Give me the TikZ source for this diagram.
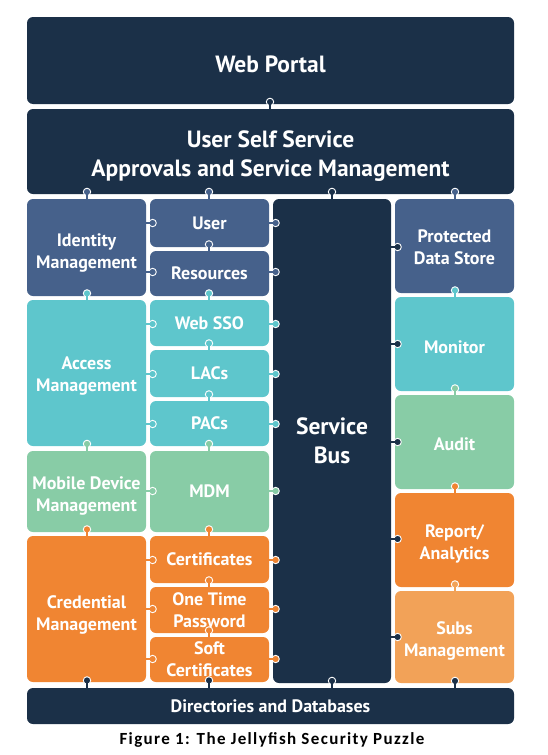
\documentclass[tikz,border=0pt]{standalone}
\usepackage{fontspec}
\setmainfont{PT Sans}
\newfontfamily\capfont{Carlito}[LetterSpace=8]
\definecolor{navy}{HTML}{1B3048}
\definecolor{idblue}{HTML}{46618B}
\definecolor{teal}{HTML}{5EC6CC}
\definecolor{mint}{HTML}{88CCA6}
\definecolor{tangerine}{HTML}{F08532}
\definecolor{apricot}{HTML}{F2A258}
\newcommand\fs[2]{\fontsize{#1}{#2}\selectfont}
\tikzset{
  piece/.style={fill=#1, rounded corners=6pt, inner sep=0pt, text=white,
    align=center, font=\bfseries\fs{18}{22}},
  bigpiece/.style={piece=#1, font=\bfseries\fs{23.5}{29}},
  every label/.style={text=white, align=center, inner sep=0pt, font=\bfseries\fs{18}{22}},
  pics/upknob/.style={code={
      \fill[#1] (-1.3,-4.5) rectangle (1.3,3);
      \filldraw[fill=#1, draw=white, line width=0.9pt] (0,-4.6) circle (3.7pt);
      \fill[#1] (-1.3,-4.5) rectangle (1.3,3);
    }},
  pics/rightknob/.style={code={
      \fill[#1] (-3,-1.3) rectangle (4.5,1.3);
      \filldraw[fill=#1, draw=white, line width=0.9pt] (4.6,0) circle (3.7pt);
      \fill[#1] (-3,-1.3) rectangle (4.5,1.3);
    }}
}
\begin{document}
\begin{tikzpicture}[x=1pt, y=-1pt]
  \useasboundingbox (0,0) rectangle (547,755);

  % top bars
  \node[bigpiece=navy, minimum width=487pt, minimum height=87pt,
    label={[yshift=-4pt, font=\bfseries\fs{23.5}{29}]center:Web Portal}] (portal) at (270.5,60.5) {};
  \node[bigpiece=navy, minimum width=487pt, minimum height=85pt,
    label={[yshift=-4.5pt, font=\bfseries\fs{23.5}{29}]center:{User Self Service\\Approvals and Service Management}}] (selfservice) at (270.5,151.5) {};

  % column 1
  \node[piece=idblue, minimum width=119pt, minimum height=97pt,
    label={[yshift=-6pt]center:{Identity\\Management}}] (identity) at (86.5,247.5) {};
  \node[piece=teal, minimum width=119pt, minimum height=146pt,
    label={[yshift=-3pt]center:{Access\\Management}}] (access) at (86.5,373) {};
  \node[piece=mint, minimum width=119pt, minimum height=81pt,
    label={[yshift=-5pt]center:{Mobile Device\\Management}}] (mobile) at (86.5,491.5) {};
  \node[piece=tangerine, minimum width=119pt, minimum height=146pt,
    label={[yshift=-6pt]center:{Credential\\Management}}] (credential) at (86.5,609) {};

  % column 2
  \node[piece=idblue, minimum width=119pt, minimum height=48pt] (user) at (209.5,223) {User};
  \node[piece=idblue, minimum width=119pt, minimum height=45pt] (resources) at (209.5,273.5) {Resources};
  \node[piece=teal, minimum width=119pt, minimum height=46pt] (websso) at (209.5,323) {Web SSO};
  \node[piece=teal, minimum width=119pt, minimum height=47pt] (lacs) at (209.5,373.5) {LACs};
  \node[piece=teal, minimum width=119pt, minimum height=45pt] (pacs) at (209.5,423.5) {PACs};
  \node[piece=mint, minimum width=119pt, minimum height=81pt] (mdm) at (209.5,491.5) {MDM};
  \node[piece=tangerine, minimum width=119pt, minimum height=47pt] (certs) at (209.5,559.5) {Certificates};
  \node[piece=tangerine, minimum width=119pt, minimum height=46pt] (otp) at (209.5,610) {One Time\\Password};
  \node[piece=tangerine, minimum width=119pt, minimum height=45pt] (softcerts) at (209.5,659.5) {Soft\\Certificates};

  % service bus
  \node[bigpiece=navy, minimum width=118pt, minimum height=484pt] (bus) at (332,441) {Service\\Bus};

  % column 4
  \node[piece=idblue, minimum width=119pt, minimum height=94pt,
    label={[yshift=-1.5pt]center:{Protected\\Data Store}}] (datastore) at (454.5,246) {};
  \node[piece=teal, minimum width=119pt, minimum height=94pt,
    label={[yshift=-3pt]center:Monitor}] (monitor) at (454.5,344) {};
  \node[piece=mint, minimum width=119pt, minimum height=94pt,
    label={[yshift=-2.5pt]center:Audit}] (audit) at (454.5,442) {};
  \node[piece=tangerine, minimum width=119pt, minimum height=94pt,
    label={[yshift=-4pt]center:{Report/\\Analytics}}] (report) at (454.5,540) {};
  \node[piece=apricot, minimum width=119pt, minimum height=92pt,
    label={[yshift=-4pt]center:{Subs\\Management}}] (subs) at (454.5,637) {};

  % bottom bar
  \node[piece=navy, minimum width=487pt, minimum height=36pt] (directories) at (270.5,706) {Directories and Databases};

  % puzzle knobs
  \pic at (270,106.5) {upknob=navy};
  \foreach \x/\c in {87/idblue, 209/idblue, 332/navy, 455/idblue}
    \pic at (\x,196.5) {upknob=\c};
  \foreach \x/\y/\c in {87/298/teal, 87/448.5/mint, 87/534/tangerine, 87/685/navy,
      209/249/idblue, 209/298/teal, 209/348/teal, 209/399/teal, 209/448.5/mint,
      209/534/tangerine, 209/585/tangerine, 209/635/tangerine, 209/685/navy,
      332/685.5/navy,
      455/295/teal, 455/393/mint, 455/491/tangerine, 455/589/apricot, 455/685.5/navy}
    \pic at (\x,\y) {upknob=\c};
  \foreach \y/\c in {223/idblue, 272/idblue, 324/teal, 374/teal, 424/teal,
      491/mint, 560/tangerine, 609/tangerine, 659/tangerine} {
    \pic at (148,\y) {rightknob=\c};
    \pic at (271,\y) {rightknob=\c};
  }
  \foreach \y in {247, 344, 442, 539, 637}
    \pic at (393,\y) {rightknob=navy};

  % caption
  \node[font=\capfont\bfseries\fs{17}{20}] (caption) at (272,740) {Figure 1: The Jellyfish Security Puzzle};
\end{tikzpicture}
\end{document}
